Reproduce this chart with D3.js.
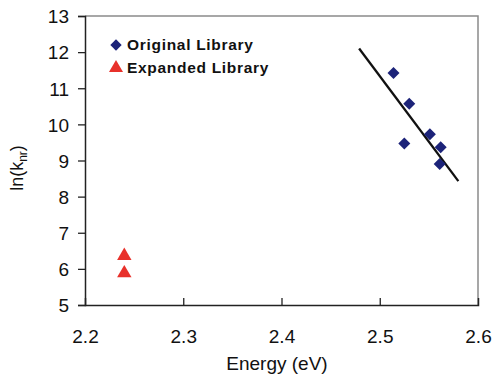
<!DOCTYPE html>
<meta charset="utf-8">
<style>
body { margin: 0; background: #fff; }
text { font-family: "Liberation Sans", Arial, sans-serif; fill: #111; }
.tick text { font-size: 19px; }
</style>
<svg width="496" height="376"></svg>
<script src="https://d3js.org/d3.v7.min.js"></script>
<script>

// data
var origEnergy = [2.514, 2.530, 2.551, 2.525, 2.562, 2.561];
var origLnK    = [11.42, 10.57, 9.73, 9.47, 9.37, 8.90];
var expEnergy  = [2.24, 2.24];
var expLnK     = [6.36, 5.88];
var fitEnergy  = [2.479, 2.58];
var fitLnK     = [12.10, 8.43];
var xTicks = [2.2, 2.3, 2.4, 2.5, 2.6];
var yTicks = [5, 6, 7, 8, 9, 10, 11, 12, 13];

var svg = d3.select("svg"),
    margin = {top: 16, right: 18, bottom: 71, left: 85},
    width = +svg.attr("width") - margin.left - margin.right,
    height = +svg.attr("height") - margin.top - margin.bottom,
    g = svg.append("g").attr("transform", "translate(" + margin.left + "," + margin.top + ")");

var x = d3.scaleLinear().domain([2.2, 2.6]).range([0, width]);
var y = d3.scaleLinear().domain([5, 13]).range([height, 0]);

// frame (top / right in grey)
g.append("path")
    .attr("d", "M0,0H" + width + "V" + height)
    .attr("fill", "none")
    .attr("stroke", "#8a8a8a")
    .attr("stroke-width", 1.5);

// x axis, ticks pointing in
var xAxis = g.append("g")
    .attr("transform", "translate(0," + height + ")")
    .call(d3.axisBottom(x).tickValues(xTicks).tickFormat(d3.format(".1f")).tickSize(-7).tickPadding(25));
xAxis.select(".domain").attr("stroke", "#222").attr("stroke-width", 1.5);
xAxis.selectAll(".tick line").attr("stroke", "#222").attr("stroke-width", 1.3)
    .filter(function(d) { return d == 2.2 || d == 2.6; }).remove();

// y axis
var yAxis = g.append("g")
    .call(d3.axisLeft(y).tickValues(yTicks).tickSize(7).tickPadding(9));
yAxis.select(".domain").attr("stroke", "#222").attr("stroke-width", 1.5);
yAxis.selectAll(".tick line").attr("stroke", "#222").attr("stroke-width", 1.3);
yAxis.selectAll(".tick text").attr("dy", "0.36em");

// fit line
g.append("line")
    .attr("x1", x(fitEnergy[0])).attr("y1", y(fitLnK[0]))
    .attr("x2", x(fitEnergy[1])).attr("y2", y(fitLnK[1]))
    .attr("stroke", "#111").attr("stroke-width", 2.3);

var diamond = d3.symbol().type(d3.symbolSquare).size(72);
var tri = d3.symbol().type(d3.symbolTriangle).size(90);

g.selectAll(".orig")
    .data(origEnergy)
  .enter().append("path")
    .attr("class", "orig")
    .attr("d", diamond)
    .attr("fill", "#1c2379")
    .attr("transform", function(d, i) { return "translate(" + x(d) + "," + y(origLnK[i]) + ") rotate(45)"; });

g.selectAll(".exp")
    .data(expEnergy)
  .enter().append("path")
    .attr("class", "exp")
    .attr("d", tri)
    .attr("fill", "#e8312b")
    .attr("transform", function(d, i) { return "translate(" + x(d) + "," + y(expLnK[i]) + ")"; });

// legend
var legend = svg.append("g");
legend.append("path").attr("d", d3.symbol().type(d3.symbolSquare).size(64))
    .attr("fill", "#1c2379").attr("transform", "translate(116,45) rotate(45)");
legend.append("text").attr("x", 127).attr("y", 50)
    .style("font-size", "15.5px").style("font-weight", "bold").style("letter-spacing", "0.7px")
    .text("Original Library");
legend.append("path").attr("d", d3.symbol().type(d3.symbolTriangle).size(85))
    .attr("fill", "#e8312b").attr("transform", "translate(116,68)");
legend.append("text").attr("x", 127).attr("y", 73)
    .style("font-size", "15.5px").style("font-weight", "bold").style("letter-spacing", "0.7px")
    .text("Expanded Library");

// axis titles
svg.append("text")
    .attr("x", 277).attr("y", 370)
    .attr("text-anchor", "middle")
    .style("font-size", "19px")
    .text("Energy (eV)");

var yl = svg.append("text")
    .attr("transform", "translate(23,168) rotate(-90)")
    .attr("text-anchor", "middle")
    .style("font-size", "18px");
yl.append("tspan").text("ln(k");
yl.append("tspan").attr("dy", 4).style("font-size", "12px").text("nr");
yl.append("tspan").attr("dy", -4).text(")");

</script>
